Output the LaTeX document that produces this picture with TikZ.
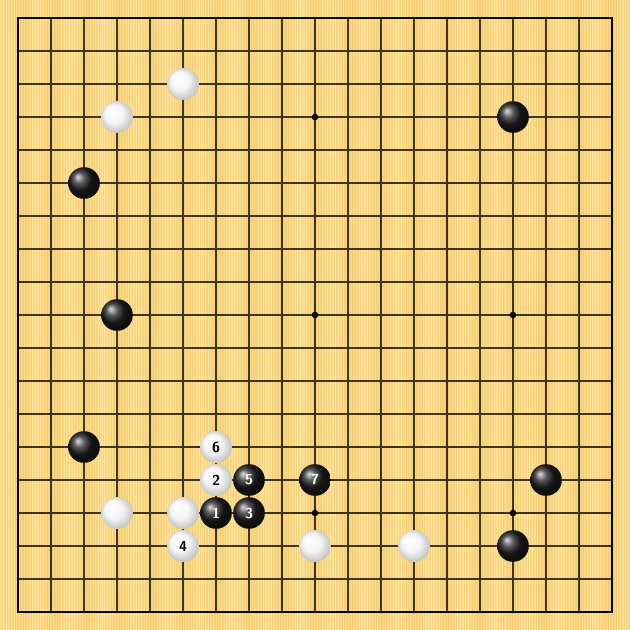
\documentclass[tikz,border=0pt]{standalone}
\usepackage{xcolor}
\usepackage{tikz}
\usetikzlibrary{shapes,positioning,shadings}

% Shading for the white stones
\pgfdeclareradialshading{whiteball}{\pgfpoint{-0.35cm}{0.35cm}}{%
    color(0cm)=(white);
    color(0.5cm)=(white!96!black);
    color(0.9cm)=(white!78!black);
    color(1.1cm)=(white!68!black)}

\begin{document}
\begin{tikzpicture}[x=0.6cm, y=-0.6cm]

% Define colors
\definecolor{boardcolor}{RGB}{249,214,128}
\definecolor{lightgrain}{RGB}{255,232,168}
\definecolor{darkgrain}{RGB}{242,200,110}
\definecolor{linecolor}{RGB}{62,52,24}

% Styles for the stones
\tikzset{
    blackstone/.style={circle, minimum size=0.96*0.6cm, inner sep=0pt, shading=ball, ball color=black!88, text=white, font=\sffamily\bfseries\fontsize{7.5}{8}\selectfont},
    whitestone/.style={circle, minimum size=0.96*0.6cm, inner sep=0pt, shading=whiteball, text=black, font=\sffamily\bfseries\fontsize{7.5}{8}\selectfont},
    starpoint/.style={circle, fill=black, minimum size=3.4pt, inner sep=0pt},
    gridline/.style={linecolor, line width=1.03pt}
}

% Helper for placing stones
\newcommand{\gostone}[5]{%
    % #1 = name, #2 = style, #3 = column, #4 = row, #5 = move number
    \node[#2] (#1) at (#3, #4) {#5};
}

% Board and wood grain (one stripe per pixel column, 33 px per cell)
\fill[boardcolor] (-0.54545, -0.54545) rectangle (18.54545, 18.54545);
\useasboundingbox (-0.54545, -0.54545) rectangle (18.54545, 18.54545);
\foreach \c in {0,...,629} {
    \pgfmathsetmacro{\gx}{-0.54545 + \c/33}
    \pgfmathsetmacro{\ga}{mod(mod(\c,101)*137,360)}
    \pgfmathsetmacro{\gb}{mod(\c*11+40,360)}
    \pgfmathsetmacro{\gv}{0.65*sin(\ga)+0.35*sin(\gb)}
    \pgfmathsetmacro{\gl}{int(abs(\gv)*85)}
    \ifdim \gv pt > 0pt
        \fill[lightgrain!\gl!boardcolor] (\gx, -0.54545) rectangle (\gx+0.0303, 18.54545);
    \else
        \fill[darkgrain!\gl!boardcolor] (\gx, -0.54545) rectangle (\gx+0.0303, 18.54545);
    \fi
}

% Grid lines
\foreach \i in {1,...,17} {
    \draw[gridline] (\i, 0) -- (\i, 18);
    \draw[gridline] (0, \i) -- (18, \i);
}
\draw[black, line width=1.3pt] (0, 0) rectangle (18, 18);

% Star points
\foreach \sx in {3,9,15} {
    \foreach \sy in {3,9,15} {
        \node[starpoint] (hoshi-\sx-\sy) at (\sx, \sy) {};
    }
}

% Stones already on the board
\gostone{w1}{whitestone}{5}{2}{}
\gostone{w2}{whitestone}{3}{3}{}
\gostone{b1}{blackstone}{15}{3}{}
\gostone{b2}{blackstone}{2}{5}{}
\gostone{b3}{blackstone}{3}{9}{}
\gostone{b4}{blackstone}{2}{13}{}
\gostone{b5}{blackstone}{16}{14}{}
\gostone{w3}{whitestone}{3}{15}{}
\gostone{w4}{whitestone}{5}{15}{}
\gostone{w5}{whitestone}{9}{16}{}
\gostone{w6}{whitestone}{12}{16}{}
\gostone{b6}{blackstone}{15}{16}{}

% Numbered moves
\gostone{m1}{blackstone}{6}{15}{1}
\gostone{m2}{whitestone}{6}{14}{2}
\gostone{m3}{blackstone}{7}{15}{3}
\gostone{m4}{whitestone}{5}{16}{4}
\gostone{m5}{blackstone}{7}{14}{5}
\gostone{m6}{whitestone}{6}{13}{6}
\gostone{m7}{blackstone}{9}{14}{7}

\end{tikzpicture}
\end{document}
